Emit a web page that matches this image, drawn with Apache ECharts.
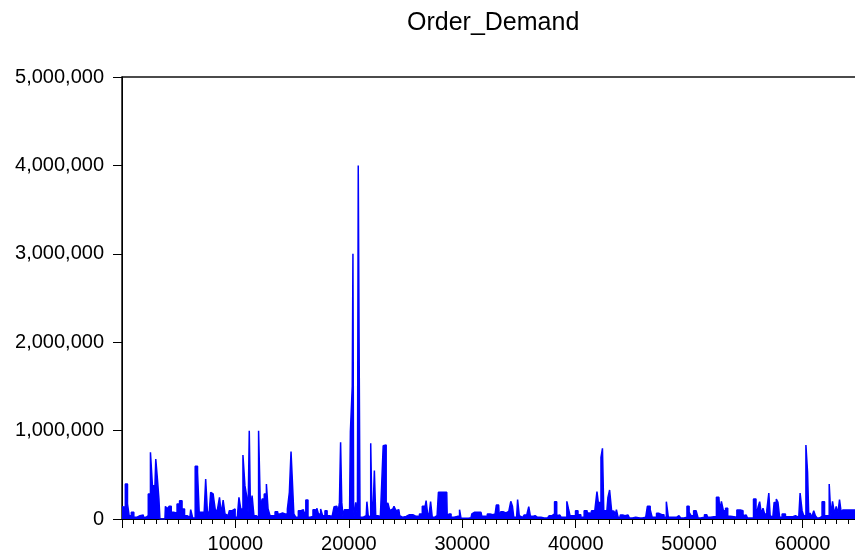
<!DOCTYPE html>
<html>
<head>
<meta charset="utf-8">
<script src="https://cdn.jsdelivr.net/npm/echarts@6/dist/echarts.min.js"></script>
<style>
  html, body { margin: 0; padding: 0; background: #fff; overflow: hidden; width: 855px; height: 556px; }
  #chart { width: 920px; height: 556px; }
</style>
</head>
<body>
<div id="chart"></div>
<script>
const chartTitle = 'Order_Demand';

const obsIndex = [
  0, 176, 411, 557, 704, 939, 1144, 1437, 1731, 2024, 2229, 2405, 2611, 2757, 2904, 3051, 3197, 3315, 3373, 3784,
  3872, 4077, 4224, 4459, 4752, 4957, 5192, 5397, 5632, 5837, 5984, 6131, 6336, 6571, 6747, 6864, 7157, 7304, 7451, 7597,
  7744, 7891, 8037, 8184, 8331, 8507, 8683, 8829, 9005, 9152, 9357, 9563, 9857, 10091, 10237, 10384, 10560, 10765, 10912, 11059,
  11176, 11264, 11381, 11557, 11704, 11939, 12144, 12261, 12437, 12643, 12819, 12936, 13171, 13376, 13611, 13845, 14051, 14256, 14491, 14667,
  14843, 14960, 15077, 15224, 15429, 15664, 15899, 16104, 16309, 16485, 16691, 16984, 17131, 17219, 17424, 17600, 17776, 18011, 18157, 18451,
  18597, 18803, 18949, 19125, 19213, 19331, 19419, 19536, 19683, 20064, 20100, 20170, 20270, 20330, 20390, 20450, 20500, 20709, 20800, 20856,
  20950, 21020, 21237, 21531, 21648, 21765, 21883, 21971, 22059, 22176, 22323, 22411, 22704, 22851, 22939, 23115, 23232, 23349, 23525, 23701,
  23877, 24083, 24229, 24405, 24552, 24757, 25051, 25344, 25637, 25784, 26077, 26371, 26576, 26752, 26869, 26987, 27104, 27309, 27397, 27691,
  27867, 27925, 28629, 28717, 28923, 29099, 29451, 29685, 29832, 29949, 30331, 30771, 30917, 31064, 31651, 31797, 32091, 32325, 32560, 32824,
  32971, 33029, 33205, 33323, 33469, 33704, 33997, 34203, 34349, 34496, 34584, 34789, 34965, 35083, 35317, 35611, 35757, 35963, 36051, 36344,
  36491, 36637, 36931, 37224, 37517, 37811, 38016, 38251, 38397, 38603, 38837, 39131, 39307, 39424, 39571, 39864, 40099, 40304, 40597, 40891,
  41125, 41331, 41477, 41683, 41829, 41917, 42064, 42152, 42301, 42415, 42533, 42651, 42797, 42885, 43091, 43237, 43384, 43531, 43648, 43824,
  44029, 44264, 44411, 44616, 44851, 45144, 45437, 45877, 46171, 46464, 46669, 46816, 47051, 47197, 47491, 47696, 47872, 48107, 48224, 48371,
  48664, 49104, 49397, 49691, 49925, 50072, 50277, 50512, 50717, 50864, 51157, 51539, 51744, 52037, 52331, 52477, 52624, 52771, 52917, 53123,
  53299, 53504, 53797, 54091, 54325, 54677, 54824, 55029, 55264, 55557, 55792, 55997, 56144, 56291, 56437, 56584, 56731, 56965, 57083, 57200,
  57376, 57611, 57757, 57904, 58051, 58344, 58637, 58931, 59371, 59664, 59899, 60016, 60192, 60397, 60485, 60603, 60720, 60896, 61072, 61189,
  61365, 61571, 61864, 62011, 62245, 62451, 62539, 62744, 62891, 63037, 63184, 63331, 63477, 63624, 64064, 64504, 65300
];

const demandThousands = [
  140, 132, 396, 170, 38, 75, 19, 38, 45, 19, 38, 283, 754, 377, 377, 679, 452, 226, 0, 0,
  143, 113, 143, 75, 68, 170, 207, 113, 38, 45, 19, 106, 11, 596, 528, 75, 75, 38, 452, 94,
  38, 302, 283, 207, 75, 113, 245, 57, 215, 57, 38, 94, 113, 19, 19, 245, 113, 724, 377, 264,
  75, 999, 113, 264, 38, 19, 999, 113, 226, 283, 396, 113, 38, 38, 83, 57, 68, 57, 57, 113,
  302, 762, 434, 57, 19, 94, 106, 75, 215, 19, 30, 106, 38, 121, 57, 113, 38, 94, 38, 30,
  38, 139, 143, 57, 188, 867, 188, 38, 106, 106, 106, 990, 1000, 1500, 3000, 120, 38, 188, 40, 4000,
  2000, 19, 19, 38, 196, 38, 19, 856, 207, 38, 547, 38, 30, 38, 396, 829, 837, 151, 181, 94,
  113, 143, 94, 106, 38, 19, 30, 49, 49, 30, 30, 57, 143, 94, 207, 75, 19, 196, 19, 38,
  30, 302, 302, 19, 57, 19, 30, 30, 106, 8, 8, 15, 57, 75, 75, 30, 30, 57, 49, 57,
  57, 158, 158, 19, 83, 68, 87, 68, 200, 143, 19, 19, 219, 38, 19, 45, 30, 139, 30, 38,
  49, 19, 19, 11, 11, 38, 57, 196, 38, 45, 19, 19, 200, 113, 38, 38, 94, 49, 19, 94,
  68, 19, 94, 94, 113, 309, 188, 188, 697, 799, 94, 94, 57, 245, 328, 94, 87, 38, 106, 19,
  45, 38, 19, 45, 11, 19, 11, 11, 19, 143, 106, 19, 19, 64, 49, 49, 19, 196, 19, 19,
  19, 38, 11, 19, 143, 75, 38, 94, 83, 11, 19, 49, 19, 26, 26, 245, 245, 94, 200, 94,
  121, 30, 26, 19, 102, 94, 38, 45, 11, 11, 226, 38, 132, 196, 57, 121, 57, 102, 294, 38,
  19, 188, 226, 188, 19, 57, 26, 26, 38, 19, 294, 94, 38, 837, 528, 38, 68, 19, 94, 38,
  11, 30, 196, 38, 38, 396, 38, 200, 57, 143, 57, 219, 75, 102, 102, 102, 100
];

const yTicks = [0, 1000000, 2000000, 3000000, 4000000, 5000000];
const xTickLabels = [10000, 20000, 30000, 40000, 50000, 60000];

// ---- build the series ----
const seriesData = obsIndex.map((x, i) => [x, demandThousands[i] * 1000]);

const FONT = "'Liberation Sans', Arial, sans-serif";
const chart = echarts.init(document.getElementById('chart'), null, { renderer: 'canvas', width: 920, height: 556 });

chart.setOption({
  animation: false,
  backgroundColor: '#ffffff',
  title: {
    text: chartTitle,
    left: 407,
    top: 11,
    padding: 0,
    textStyle: { fontFamily: FONT, fontSize: 25, fontWeight: 'normal', color: '#000' }
  },
  grid: {
    left: 122,
    top: 77,
    right: 4,
    bottom: 37,
    show: true,
    borderColor: '#111',
    borderWidth: 1.5,
    containLabel: false
  },
  xAxis: {
    type: 'value',
    min: 0,
    max: 70000,
    interval: 10000,
    axisLine: { show: true, onZero: false, lineStyle: { color: '#000', width: 1 } },
    axisTick: { show: true, length: 9, lineStyle: { color: '#000' } },
    minorTick: { show: true, splitNumber: 10, length: 5, lineStyle: { color: '#000' } },
    splitLine: { show: false },
    axisLabel: {
      margin: 15,
      fontFamily: FONT,
      fontSize: 20,
      color: '#000',
      showMaxLabel: false,
      formatter: v => (xTickLabels.indexOf(v) >= 0 ? String(v) : '')
    }
  },
  yAxis: {
    type: 'value',
    min: yTicks[0],
    max: yTicks[yTicks.length - 1],
    interval: 1000000,
    axisLine: { show: true, lineStyle: { color: '#000', width: 1 } },
    axisTick: { show: true, length: 9, lineStyle: { color: '#000' } },
    splitLine: { show: false },
    axisLabel: {
      margin: 18,
      fontFamily: FONT,
      fontSize: 20,
      color: '#000',
      formatter: v => v.toLocaleString('en-US')
    }
  },
  series: [{
    type: 'line',
    data: seriesData,
    showSymbol: false,
    symbol: 'none',
    step: 'middle',
    clip: true,
    lineStyle: { color: '#0000ff', width: 1.5 },
    areaStyle: { color: '#0000ff', opacity: 1 },
    itemStyle: { color: '#0000ff' }
  }]
});
</script>
</body>
</html>
